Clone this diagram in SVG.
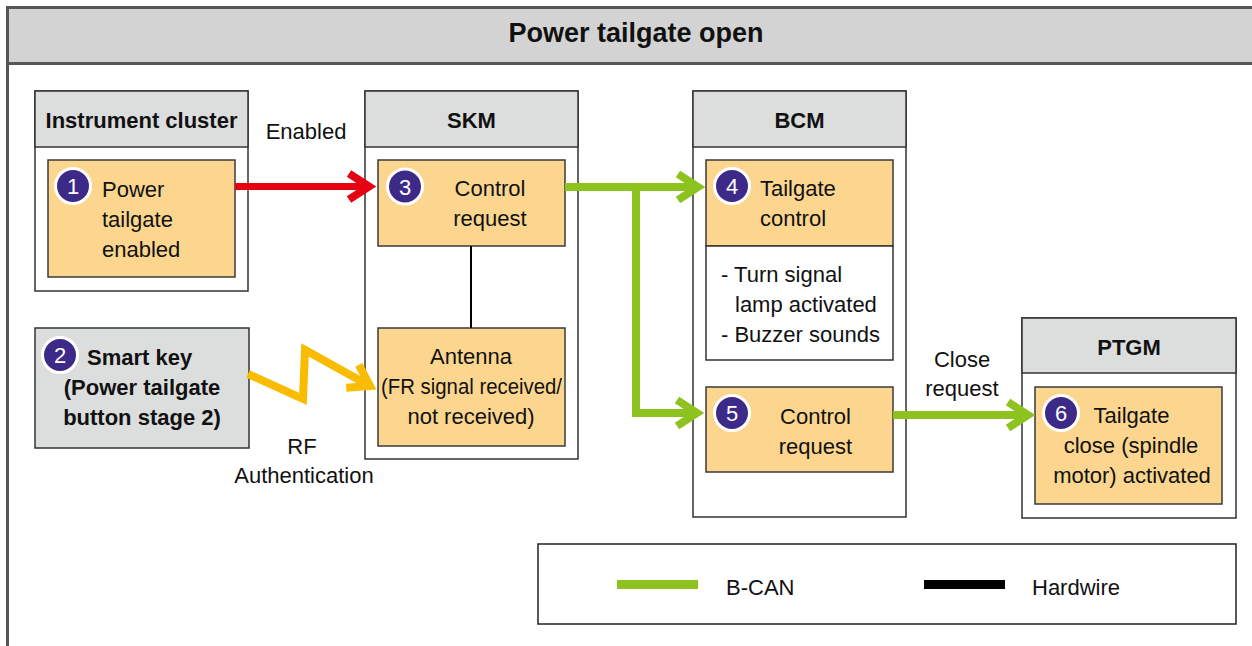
<svg xmlns="http://www.w3.org/2000/svg" width="1252" height="646" viewBox="0 0 1252 646">
<style>
text{font-family:"Liberation Sans",Arial,sans-serif;fill:#111}
.t{font-size:27px;font-weight:bold;text-anchor:middle}
.h{font-size:22px;font-weight:bold;text-anchor:middle}
.b{font-size:22px}
.bb{font-size:22px;font-weight:bold}
.m{text-anchor:middle}
.box{fill:#fff;stroke:#333;stroke-width:1.5}
.hdr{fill:#dcdddd;stroke:#333;stroke-width:1.5}
.or{fill:#fcd68e;stroke:#3a3a3a;stroke-width:1.5}
.num circle{fill:#3d2a88;stroke:#fff;stroke-width:3}
.num text{fill:#fff;font-size:22px;text-anchor:middle}
.g{fill:none;stroke:#8dc21f;stroke-width:8;stroke-linejoin:miter}
</style>
<defs>
<marker id="ag" markerUnits="userSpaceOnUse" markerWidth="50" markerHeight="50" viewBox="-30 -25 50 50" refX="0" refY="0" orient="auto" overflow="visible"><path d="M-20,-13 L0,0 L-20,13" fill="none" stroke="#8dc21f" stroke-width="8" stroke-linejoin="miter"/></marker>
<marker id="ar" markerUnits="userSpaceOnUse" markerWidth="50" markerHeight="50" viewBox="-30 -25 50 50" refX="0" refY="0" orient="auto" overflow="visible"><path d="M-20,-13 L0,0 L-20,13" fill="none" stroke="#e60012" stroke-width="8" stroke-linejoin="miter"/></marker>
<marker id="ay" markerUnits="userSpaceOnUse" markerWidth="50" markerHeight="50" viewBox="-30 -25 50 50" refX="0" refY="0" orient="auto" overflow="visible"><path d="M-20,-13 L0,0 L-20,13" fill="none" stroke="#f9bc00" stroke-width="8" stroke-linejoin="miter"/></marker>
</defs>
<rect width="1252" height="646" fill="#fff"/>
<g id="frame">
<rect x="7.5" y="7.5" width="1260" height="56" fill="#d3d3d3" stroke="#555" stroke-width="3"/>
<path d="M7.5 7.5 V646" stroke="#555" stroke-width="3" fill="none"/>
<text class="t" x="636" y="42">Power tailgate open</text>
</g>
<g id="instrument-cluster">
<rect class="box" x="35" y="91" width="213" height="200"/>
<rect class="hdr" x="35" y="91" width="213" height="56"/>
<text class="h" x="141.5" y="128">Instrument cluster</text>
</g>
<g id="node1">
<rect class="or" x="48" y="160" width="187" height="117"/>
<g class="num"><circle cx="73" cy="186" r="17.5"/><text x="73" y="194">1</text></g>
<text class="b" x="102" y="197">Power</text>
<text class="b" x="102" y="227">tailgate</text>
<text class="b" x="102" y="257">enabled</text>
</g>
<g id="smart-key">
<rect class="hdr" x="35" y="328" width="214" height="120"/>
<g class="num"><circle cx="60" cy="355" r="17.5"/><text x="60" y="363">2</text></g>
<text class="bb" x="87" y="365">Smart key</text>
<text class="bb m" x="142" y="395">(Power tailgate</text>
<text class="bb m" x="142" y="425">button stage 2)</text>
</g>
<g id="skm">
<rect class="box" x="365" y="91" width="213" height="368"/>
<rect class="hdr" x="365" y="91" width="213" height="56"/>
<text class="h" x="471.5" y="128">SKM</text>
</g>
<g id="node3">
<rect class="or" x="378" y="160" width="187" height="86"/>
<g class="num"><circle cx="405" cy="186.5" r="17.5"/><text x="405" y="194.5">3</text></g>
<text class="b m" x="490" y="196">Control</text>
<text class="b m" x="490" y="226">request</text>
</g>
<g id="antenna">
<rect class="or" x="378" y="328" width="187" height="118"/>
<text class="b m" x="471" y="364">Antenna</text>
<text class="b m" x="471.5" y="394" textLength="181" lengthAdjust="spacingAndGlyphs">(FR signal received/</text>
<text class="b m" x="471" y="424">not received)</text>
</g>
<g id="bcm">
<rect class="box" x="693" y="91" width="213" height="426"/>
<rect class="hdr" x="693" y="91" width="213" height="56"/>
<text class="h" x="799.5" y="128">BCM</text>
</g>
<g id="node4">
<rect class="or" x="706" y="160" width="187" height="86"/>
<rect class="box" x="706" y="246" width="187" height="114"/>
<g class="num"><circle cx="732" cy="186" r="17.5"/><text x="732" y="194">4</text></g>
<text class="b" x="760" y="196">Tailgate</text>
<text class="b" x="760" y="226">control</text>
<text class="b" x="721" y="282">- Turn signal</text>
<text class="b" x="735" y="312">lamp activated</text>
<text class="b" x="721" y="342">- Buzzer sounds</text>
</g>
<g id="node5">
<rect class="or" x="706" y="387" width="187" height="85"/>
<g class="num"><circle cx="732" cy="413" r="17.5"/><text x="732" y="421">5</text></g>
<text class="b m" x="815.5" y="424">Control</text>
<text class="b m" x="815.5" y="454">request</text>
</g>
<g id="ptgm">
<rect class="box" x="1022" y="318" width="214" height="200"/>
<rect class="hdr" x="1022" y="318" width="214" height="55"/>
<text class="h" x="1129" y="355">PTGM</text>
</g>
<g id="node6">
<rect class="or" x="1035" y="387" width="187" height="117"/>
<g class="num"><circle cx="1061" cy="413" r="17.5"/><text x="1061" y="421">6</text></g>
<text class="b m" x="1131.5" y="423">Tailgate</text>
<text class="b m" x="1131" y="453">close (spindle</text>
<text class="b m" x="1132" y="483">motor) activated</text>
</g>
<g id="connectors">
<path d="M235 186.5 H369" fill="none" stroke="#e60012" stroke-width="7" marker-end="url(#ar)"/>
<text class="b m" x="306" y="139">Enabled</text>
<path d="M471 246 V328" stroke="#000" stroke-width="2" fill="none"/>
<polyline points="248,374 303,399 305,350 370,386" fill="none" stroke="#f9bc00" stroke-width="8" stroke-linejoin="miter" marker-end="url(#ay)"/>
<text class="b m" x="302" y="454">RF</text>
<text class="b m" x="304" y="483">Authentication</text>
<path class="g" d="M565 187 H698" marker-end="url(#ag)"/>
<path class="g" d="M636 187 V413 H697" marker-end="url(#ag)"/>
<path class="g" d="M893 415 H1028" marker-end="url(#ag)"/>
<text class="b m" x="962" y="367">Close</text>
<text class="b m" x="962" y="396">request</text>
</g>
<g id="legend">
<rect x="538" y="544" width="698" height="80" fill="#fff" stroke="#222" stroke-width="1.5"/>
<path d="M617 584.5 H698" stroke="#8dc21f" stroke-width="9"/>
<text class="b" x="726" y="595">B-CAN</text>
<path d="M924 584.5 H1005" stroke="#000" stroke-width="9"/>
<text class="b" x="1032" y="595">Hardwire</text>
</g>
</svg>
